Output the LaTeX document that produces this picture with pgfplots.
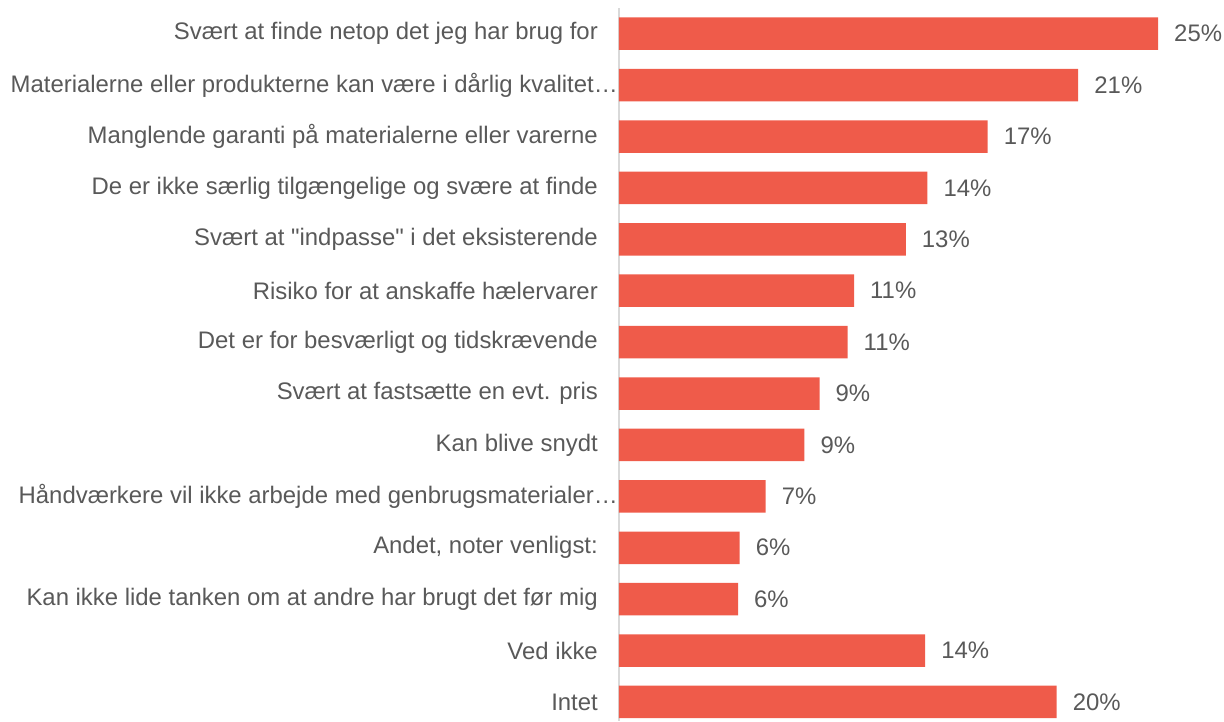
\documentclass[border=0pt]{standalone}
\usepackage{pgfplots}
\pgfplotsset{compat=1.18}
\usepackage{pgfplotstable}
\usepackage{fontspec}
\setmainfont{Liberation Sans}[Ligatures=TeXOff]
\definecolor{barred}{RGB}{239,91,74}
\definecolor{txtgray}{RGB}{89,89,89}
\definecolor{axgray}{RGB}{217,217,217}
\pgfplotstableread{
idx val
0 25.0
1 21.3
2 17.1
3 14.3
4 13.3
5 10.9
6 10.6
7 9.3
8 8.6
9 6.8
10 5.6
11 5.52
12 14.2
13 20.3
}\datatable
\begin{document}
\begin{tikzpicture}
\begin{axis}[
  at={(0,0)}, anchor=south west,
  scale only axis,
  width=605pt, height=713pt,
  xbar, bar width=32.5pt,
  y dir=reverse,
  ymin=-0.5, ymax=13.37,
  xmin=0, xmax=28.06,
  axis x line=none,
  axis y line*=left,
  y axis line style={draw=axgray, line width=1.5pt, -},
  major tick length=0pt,
  ytick={0,...,13},
  yticklabels={
    {Svært at finde netop det jeg har brug for},
    {Materialerne eller produkterne kan være i dårlig kvalitet…\hspace*{-20pt}},
    {Manglende garanti på materialerne eller varerne},
    {De er ikke særlig tilgængelige og svære at finde},
    {Svært at "indpasse" i det eksisterende},
    {Risiko for at anskaffe hælervarer},
    {Det er for besværligt og tidskrævende},
    {Svært at fastsætte en evt. pris},
    {Kan blive snydt},
    {Håndværkere vil ikke arbejde med genbrugsmaterialer…\hspace*{-20pt}},
    {Andet, noter venligst:},
    {Kan ikke lide tanken om at andre har brugt det før mig},
    {Ved ikke},
    {Intet}},
  yticklabel style={font=\fontsize{23.9}{28}\selectfont, text=txtgray, anchor=east, inner sep=0pt, xshift=-21pt},
  /pgf/number format/assume math mode=true,
  nodes near coords={\pgfmathprintnumber[fixed,precision=0,assume math mode=true]{\pgfplotspointmeta}\%},
  point meta=x,
  nodes near coords style={font=\fontsize{23.9}{28}\selectfont, text=txtgray, anchor=west, inner sep=0pt, xshift=16pt},
  clip=false,
]
\addplot[fill=barred, draw=none] table[x=val, y=idx] {\datatable};
\end{axis}
\pgfresetboundingbox
\path[use as bounding box] (-619pt,0pt) rectangle (605pt,721pt);
\end{tikzpicture}
\end{document}
